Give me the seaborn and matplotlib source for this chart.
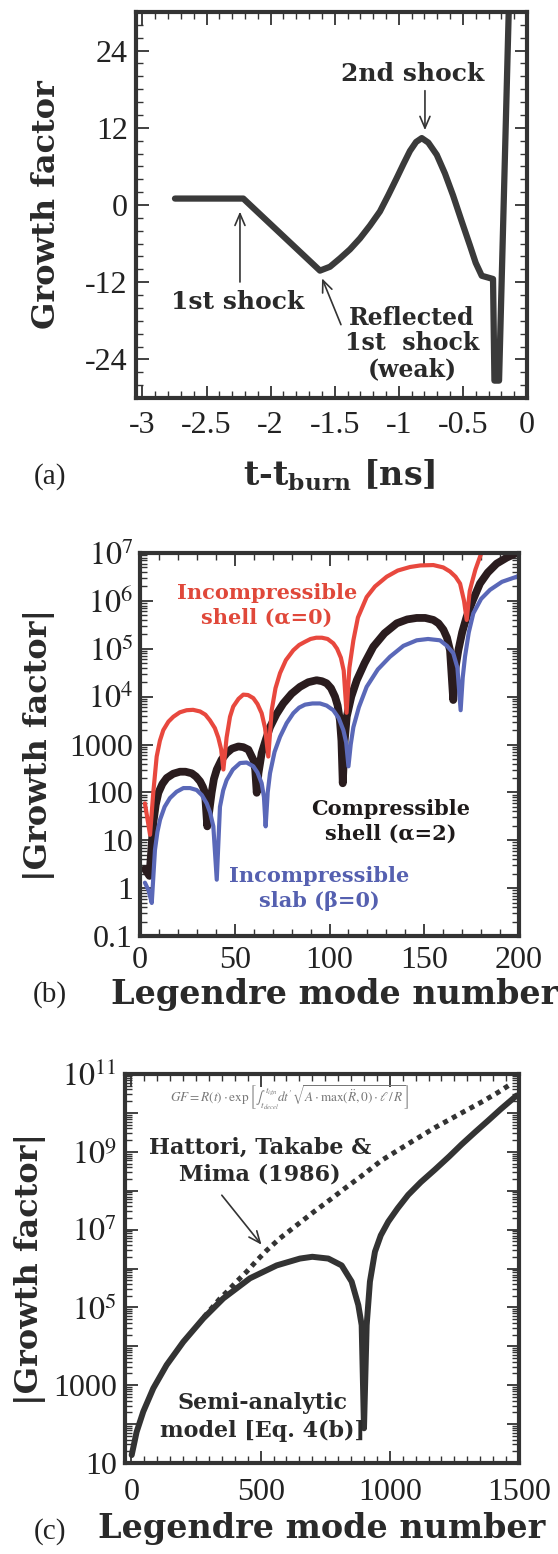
import numpy as np
import matplotlib
matplotlib.use("Agg")
import matplotlib.pyplot as plt
import matplotlib.ticker as mticker
import seaborn as sns

# ---- panel (a): growth factor vs time ----
a_time = [-2.746, -2.213, -1.615, -1.537, -1.459, -1.381, -1.303, -1.225, -1.147, -1.080,
          -1.016, -0.963, -0.913, -0.865, -0.821, -0.770, -0.704, -0.640, -0.577, -0.510,
          -0.445, -0.400, -0.353, -0.265, -0.254, -0.218, -0.140]
a_growth = [1.0, 1.0, -10.2, -9.6, -8.3, -6.9, -5.2, -3.2, -1.0, 1.6,
            4.2, 6.4, 8.4, 9.8, 10.4, 9.7, 7.8, 4.9, 1.5, -2.5,
            -6.3, -9.0, -11.0, -11.5, -27.3, -27.3, 32.0]
a_xticks = [-3, -2.5, -2, -1.5, -1, -0.5, 0]
a_xticklabels = ["-3", "-2.5", "-2", "-1.5", "-1", "-0.5", "0"]
a_yticks = [-24, -12, 0, 12, 24]
a_yticklabels = ["-24", "-12", "0", "12", "24"]

# ---- panel (b): |growth factor| vs Legendre mode, three models ----
b_red_mode = [2.6, 5.3, 7.0, 8.8, 10.5, 12.3, 15.0, 17.6, 21.0, 24.6, 28.0, 31.7, 34.5,
              36.9, 39.5, 41.3, 42.8, 44.0, 45.7, 47.5, 49.2, 52.0, 54.5, 57.0, 59.8,
              62.0, 64.2, 66.0, 67.7, 69.5, 71.5, 73.9, 77.0, 80.9, 84.0, 87.1, 90.0,
              93.0, 96.0, 99.0, 102.0, 104.0, 106.0, 107.5, 109.0, 110.5, 112.6, 115.0,
              119.6, 124.0, 130.2, 136.0, 142.5, 148.0, 154.8, 160.0, 163.6, 166.5,
              168.9, 171.0, 172.4, 174.0, 175.0, 177.0, 179.4, 182.0]
b_red_gf = [59, 13, 98, 560, 1200, 2000, 3000, 3800, 4700, 5200, 5300, 4900, 4200,
            3200, 2200, 1400, 800, 300, 1400, 3800, 6200, 9000, 11000, 10800, 9300,
            7000, 4500, 2200, 560, 5200, 15000, 31000, 58000, 93000, 1.2e5, 1.4e5, 1.6e5,
            1.7e5, 1.7e5, 1.6e5, 1.3e5, 1.0e5, 6.5e4, 3.5e4, 4600, 4.0e4, 1.5e5, 4.5e5,
            1.2e6, 2.0e6, 3.2e6, 4.3e6, 5.1e6, 5.5e6, 5.6e6, 5.0e6, 4.1e6, 3.2e6,
            2.3e6, 1.0e6, 4.0e5, 1.6e6, 2.3e6, 4.5e6, 8.3e6, 1.6e7]
b_black_mode = [2.6, 5.0, 7.0, 8.3, 9.7, 11.8, 14.1, 17.5, 21.1, 24.0, 27.3, 29.5, 31.7,
                33.2, 34.3, 35.5, 37.8, 39.0, 40.5, 43.0, 45.7, 48.5, 51.9, 54.5, 57.2,
                59.8, 60.8, 61.6, 62.5, 64.2, 66.5, 68.6, 72.0, 75.6, 80.0, 84.4, 88.8,
                93.2, 96.0, 98.5, 100.8, 102.9, 104.3, 105.5, 106.3, 107.0, 108.0, 109.1,
                111.5, 114.4, 118.5, 123.1, 129.0, 135.5, 141.0, 146.0, 150.5, 154.8,
                157.5, 160.1, 162.0, 163.6, 165.3, 166.5, 168.0, 170.0, 172.4, 175.5,
                179.4, 183.5, 188.2, 193.5, 198.8, 200.0]
b_black_gf = [2.5, 1.8, 23, 55, 98, 150, 200, 245, 270, 270, 250, 215, 170,
              130, 98, 19.5, 98, 190, 300, 480, 660, 820, 910, 880, 780,
              480, 300, 98, 250, 660, 1300, 2300, 4300, 7200, 11500, 16000, 20000,
              22000, 21000, 19000, 15000, 10000, 6500, 3200, 1200, 155, 1200, 3800,
              10000, 22000, 50000, 1.1e5, 2.1e5, 3.4e5, 4.1e5, 4.4e5, 4.4e5, 4.0e5,
              3.4e5, 2.5e5, 1.7e5, 9.3e4, 8500, 4.0e4, 9.3e4, 2.2e5, 4.7e5, 1.0e6,
              2.3e6, 3.9e6, 6.0e6, 8.0e6, 1.0e7, 1.07e7]
b_blue_mode = [2.6, 4.5, 6.2, 7.9, 9.2, 10.6, 13.0, 15.8, 19.3, 22.9, 26.4, 29.9, 32.6,
               35.2, 37.0, 38.7, 40.5, 42.2, 43.9, 45.7, 49.0, 52.8, 56.3, 59.8, 62.0,
               64.2, 65.4, 66.3, 67.4, 68.6, 71.0, 73.9, 77.4, 80.9, 84.0, 87.1, 91.0,
               95.0, 98.5, 102.0, 104.8, 107.3, 108.8, 110.0, 111.2, 112.6, 115.5, 119.6,
               125.5, 131.9, 139.0, 146.0, 152.0, 158.3, 162.0, 165.3, 167.5, 169.2,
               170.3, 171.5, 173.5, 175.9, 180.0, 184.7, 191.0, 198.8, 200.0]
b_blue_gf = [1.3, 0.9, 0.49, 6.3, 15, 27, 50, 76, 103, 123, 123, 112, 88,
             59, 38, 19.5, 1.5, 50, 110, 180, 300, 410, 420, 350, 260,
             155, 80, 19.5, 100, 250, 700, 1450, 2800, 4500, 5900, 6800, 7200,
             7200, 6500, 5200, 3600, 2000, 1100, 350, 1000, 2300, 6000, 16000,
             37000, 68000, 1.15e5, 1.5e5, 1.6e5, 1.5e5, 1.15e5, 8.1e4, 4.0e4, 5200,
             2.5e4, 6.8e4, 2.2e5, 5.5e5, 1.1e6, 1.7e6, 2.5e6, 3.2e6, 3.4e6]
b_xticks = [0, 50, 100, 150, 200]
b_yticks = [0.1, 1, 10, 100, 1000, 1e4, 1e5, 1e6, 1e7]
b_yticklabels = ["0.1", "1", "10", "100", "1000", "$10^4$", "$10^5$", "$10^6$", "$10^7$"]

# ---- panel (c): semi-analytic model vs Hattori, Takabe & Mima ----
c_model_mode = [0.9, 20, 45.8, 84.5, 136, 200.6, 278, 355.4, 458.7, 562, 652, 700, 762,
                813.6, 852.3, 878, 891, 900, 910.4, 923, 942.5, 965, 994, 1030, 1071,
                1120, 1175, 1230, 1278, 1330, 1380, 1430, 1491]
c_model_gf = [16, 63, 210, 830, 3300, 1.3e4, 5.2e4, 1.7e5, 5.6e5, 1.2e6, 1.8e6, 2.0e6, 1.8e6,
              1.2e6, 4.6e5, 1.15e5, 3.5e4, 78, 3.5e4, 4.6e5, 2.7e6, 7.1e6, 1.6e7, 3.5e7, 7.8e7,
              1.66e8, 3.5e8, 7.6e8, 1.55e9, 3.2e9, 6.3e9, 1.26e10, 2.8e10]
c_htm_mode = [280, 343, 369, 407, 446, 485, 523, 575, 633, 704, 775, 826, 891, 968,
              1071, 1175, 1278, 1355, 1420, 1470]
c_htm_gf = [5.6e4, 1.7e5, 2.5e5, 4.6e5, 8.3e5, 1.6e6, 2.9e6, 6.0e6, 1.2e7, 2.8e7, 6.3e7,
            1.15e8, 2.4e8, 6.0e8, 1.6e9, 4.2e9, 1.0e10, 1.9e10, 3.4e10, 5.6e10]
c_xticks = [0, 500, 1000, 1500]
c_yticks = [1e1, 1e2, 1e3, 1e4, 1e5, 1e6, 1e7, 1e8, 1e9, 1e10, 1e11]
c_yticklabels = ["10", "", "1000", "", "$10^5$", "", "$10^7$", "", "$10^9$", "", "$10^{11}$"]

sns.set_theme(style="ticks")
plt.rcParams.update({
    "font.family": ["Liberation Serif", "DejaVu Serif"],
    "mathtext.fontset": "stix",
    "axes.unicode_minus": False,
    "axes.linewidth": 3.0,
    "axes.edgecolor": "#333333",
    "lines.dotted_pattern": [1, 1.0],
})

INK = "#333333"
BOLD = dict(family="DejaVu Serif", fontweight="bold", color="#2a2a2a")

fig = plt.figure(figsize=(5.58, 15.54), dpi=100)
fig.patch.set_facecolor("white")
ax_a = fig.add_axes([136 / 558, 1 - 398 / 1554, 391 / 558, 386 / 1554])
ax_b = fig.add_axes([140 / 558, 1 - 936 / 1554, 379 / 558, 383 / 1554])
ax_c = fig.add_axes([125 / 558, 1 - 1463 / 1554, 394 / 558, 389 / 1554])


def style_ticks(ax, xpad, ypad):
    ax.tick_params(which="both", direction="in", top=True, right=True, colors=INK,
                   labelcolor="#222222", labelsize=23)
    ax.tick_params(which="major", length=9, width=1.3)
    ax.tick_params(which="minor", length=5, width=1.0)
    ax.tick_params(axis="x", which="major", pad=xpad)
    ax.tick_params(axis="y", which="major", pad=ypad)


arrow = dict(arrowstyle="->,head_length=0.7,head_width=0.3", lw=1.2, color=INK)

# ---------------- (a) ----------------
sns.lineplot(x=a_time, y=a_growth, ax=ax_a, color="#3a3a3a", linewidth=4.5,
             sort=False, estimator=None)
ax_a.set_xlim(-3.05, 0)
ax_a.set_ylim(-30, 30)
ax_a.set_xticks(a_xticks, a_xticklabels)
ax_a.set_yticks(a_yticks, a_yticklabels)
ax_a.xaxis.set_minor_locator(mticker.MultipleLocator(0.1))
ax_a.yaxis.set_minor_locator(mticker.MultipleLocator(2))
style_ticks(ax_a, 9, 6)
ax_a.set_xlabel(r"t-t$_{\mathbf{burn}}$ [ns]", fontsize=24, math_fontfamily="dejavuserif", **BOLD)
ax_a.xaxis.set_label_coords(0.52, -0.155)
ax_a.set_ylabel("Growth factor", fontsize=23, **BOLD)
ax_a.yaxis.set_label_coords(-0.19, 0.5)

ax_a.text(-0.889, 20.4, "2nd shock", ha="center", va="center", fontsize=18, **BOLD)
ax_a.annotate("", xy=(-0.796, 11.2), xytext=(-0.796, 18.2), arrowprops=arrow)
ax_a.text(-2.254, -15.1, "1st shock", ha="center", va="center", fontsize=18, **BOLD)
ax_a.annotate("", xy=(-2.239, -0.6), xytext=(-2.239, -12.4), arrowprops=arrow)
ax_a.text(-0.897, -21.5, "Reflected\n1st  shock\n(weak)", ha="center", va="center",
          fontsize=17, linespacing=1.08, **BOLD)
ax_a.annotate("", xy=(-1.607, -11.0), xytext=(-1.443, -19.0), arrowprops=arrow)

# ---------------- (b) ----------------
sns.lineplot(x=b_black_mode, y=b_black_gf, ax=ax_b, color="#2a1c1e", linewidth=5.6,
             sort=False, estimator=None)
sns.lineplot(x=b_blue_mode, y=b_blue_gf, ax=ax_b, color="#5a68b8", linewidth=3.0,
             sort=False, estimator=None)
sns.lineplot(x=b_red_mode, y=b_red_gf, ax=ax_b, color="#e8483e", linewidth=3.0,
             sort=False, estimator=None)
ax_b.set_yscale("log")
ax_b.set_xlim(0, 200)
ax_b.set_ylim(0.1, 1e7)
ax_b.set_xticks(b_xticks, [str(v) for v in b_xticks])
ax_b.set_yticks(b_yticks, b_yticklabels)
ax_b.xaxis.set_minor_locator(mticker.MultipleLocator(10))
ax_b.yaxis.set_minor_locator(mticker.LogLocator(base=10, subs=np.arange(2, 10), numticks=100))
ax_b.yaxis.set_minor_formatter(mticker.NullFormatter())
style_ticks(ax_b, 7, 5)
ax_b.set_xlabel("Legendre mode number", fontsize=24, **BOLD)
ax_b.xaxis.set_label_coords(0.514, -0.11)
ax_b.set_ylabel("|Growth factor|", fontsize=23, **BOLD)
ax_b.yaxis.set_label_coords(-0.225, 0.5)

tb = dict(family="DejaVu Serif", fontweight="bold", fontsize=15, ha="center", va="center",
          linespacing=1.3, transform=ax_b.transAxes)
ax_b.text(0.335, 0.862, "Incompressible\nshell (\u03b1=0)", color="#e0483a", **tb)
ax_b.text(0.662, 0.298, "Compressible\nshell (\u03b1=2)", color="#1e1a1a", **tb)
ax_b.text(0.472, 0.123, "Incompressible\nslab (\u03b2=0)", color="#5560b0", **tb)

# ---------------- (c) ----------------
sns.lineplot(x=c_htm_mode, y=c_htm_gf, ax=ax_c, color="#333333", linewidth=3.6,
             linestyle=":", sort=False, estimator=None)
sns.lineplot(x=c_model_mode, y=c_model_gf, ax=ax_c, color="#333333", linewidth=4.3,
             sort=False, estimator=None)
ax_c.set_yscale("log")
ax_c.set_xlim(-25, 1500)
ax_c.set_ylim(10, 1e11)
ax_c.set_xticks(c_xticks, [str(v) for v in c_xticks])
ax_c.set_yticks(c_yticks, c_yticklabels)
ax_c.xaxis.set_minor_locator(mticker.MultipleLocator(50))
ax_c.yaxis.set_minor_locator(mticker.LogLocator(base=10, subs=np.arange(2, 10), numticks=100))
ax_c.yaxis.set_minor_formatter(mticker.NullFormatter())
style_ticks(ax_c, 11, 6)
ax_c.set_xlabel("Legendre mode number", fontsize=24, **BOLD)
ax_c.xaxis.set_label_coords(0.5, -0.125)
ax_c.set_ylabel("|Growth factor|", fontsize=23, **BOLD)
ax_c.yaxis.set_label_coords(-0.2, 0.5)

ax_c.text(0.114, 0.938,
          r"$GF = R(t)\cdot\exp\left[\int_{t_{decel}}^{t_{ign}} dt'\sqrt{A\cdot\max(\ddot{R},0)\cdot\ell\,/\,R}\right]$",
          transform=ax_c.transAxes, ha="left", va="center", fontsize=9.5, color="#777777")
tc = dict(family="DejaVu Serif", fontweight="bold", fontsize=16, ha="center", va="center",
          linespacing=1.3, color="#2a2a2a", transform=ax_c.transAxes)
ax_c.text(0.343, 0.776, "Hattori, Takabe &\nMima (1986)", **tc)
ax_c.text(0.348, 0.118, "Semi-analytic\nmodel [Eq. 4(b)]", **tc)
ax_c.annotate("", xy=(510, 3.6e6), xytext=(343, 8.7e7), arrowprops=arrow)

# panel letters
for label, ypx in [("(a)", 477), ("(b)", 995), ("(c)", 1532)]:
    fig.text(50 / 558, 1 - ypx / 1554, label, ha="center", va="center", fontsize=21,
             color="#222222")

fig.savefig("out.png", dpi=100, facecolor="white")
